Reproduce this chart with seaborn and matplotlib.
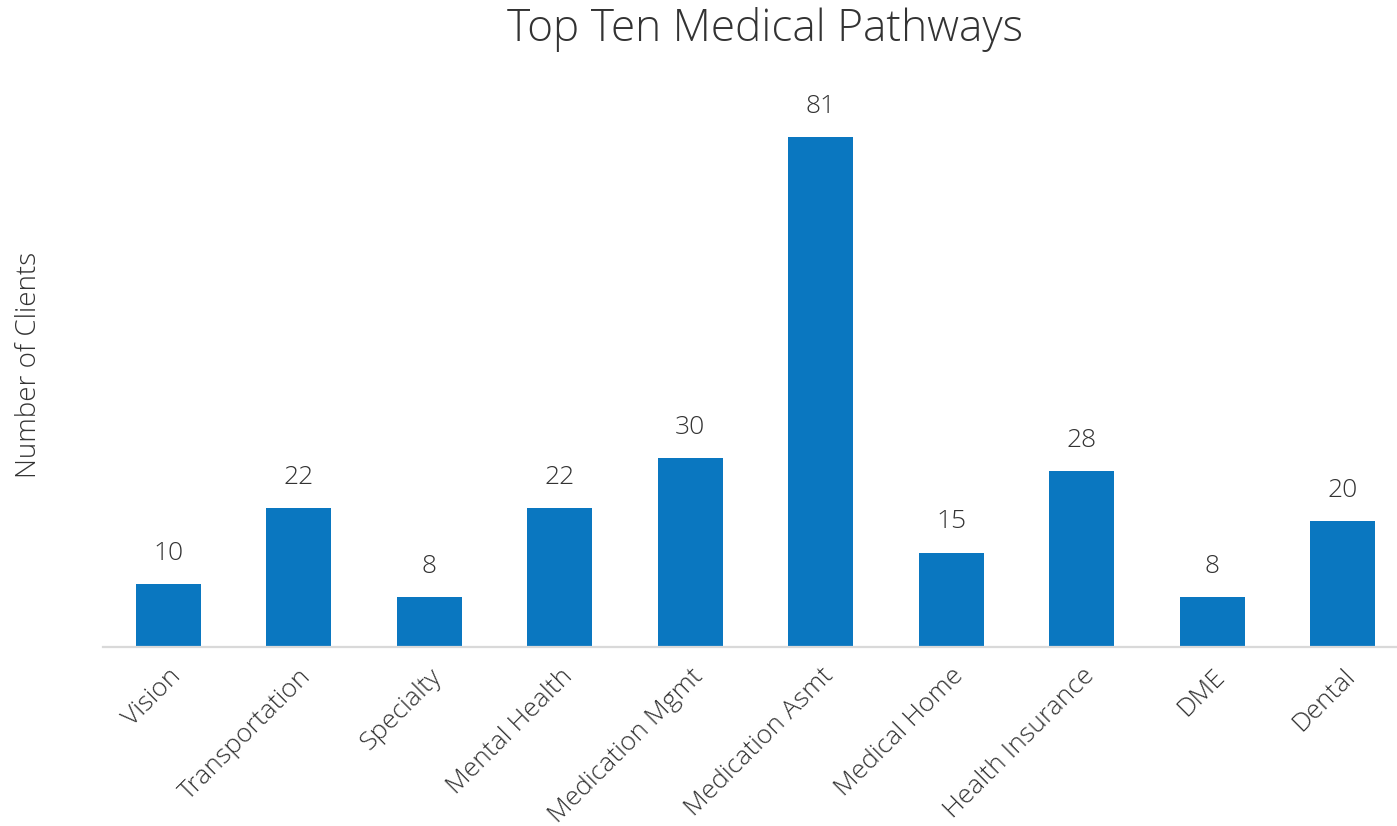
import matplotlib
matplotlib.use("Agg")
import matplotlib.pyplot as plt
import seaborn as sns
import pandas as pd

categories = ["Vision", "Transportation", "Specialty", "Mental Health", "Medication Mgmt",
              "Medication Asmt", "Medical Home", "Health Insurance", "DME", "Dental"]
clients = [10, 22, 8, 22, 30, 81, 15, 28, 8, 20]

sns.set_theme(style="white")
plt.rcParams["font.family"] = ["Open Sans", "DejaVu Sans"]

TEXT = "#333333"
df = pd.DataFrame({"pathway": categories, "clients": clients})

fig = plt.figure(figsize=(13.97, 8.26), dpi=100)
ax = fig.add_axes([103 / 1397, 1 - 647 / 826, 1294 / 1397, 566.7 / 826])

sns.barplot(data=df, x="pathway", y="clients", color="#0a77c0", saturation=1,
            width=0.5, ax=ax, edgecolor="none")

ax.set_xlim(-0.5, 9.415)
ax.set_ylim(0, 90)

for i, v in enumerate(clients):
    ax.annotate(str(v), (i, v), xytext=(0, 13), textcoords="offset points",
                ha="center", va="bottom", fontsize=19, color=TEXT, fontweight="light")

for s in ["top", "right", "left"]:
    ax.spines[s].set_visible(False)
ax.spines["bottom"].set_color("#d9d9d9")
ax.spines["bottom"].set_linewidth(1.6)
ax.set_yticks([])
ax.tick_params(axis="x", length=0, pad=12)
ax.set_xticks(range(len(categories)))
ax.set_xticklabels(categories, rotation=45, ha="right", rotation_mode="anchor",
                   fontsize=19, color=TEXT, fontweight="light")
ax.set_xlabel("")
ax.set_ylabel("Number of Clients", fontsize=20, color=TEXT, fontweight="light")
ax.yaxis.set_label_coords(-0.0465, 0.497)

fig.suptitle("Top Ten Medical Pathways", fontsize=31.8, color=TEXT, fontweight="light",
             x=765 / 1397, y=0.992)

fig.savefig("out.png", dpi=100)
